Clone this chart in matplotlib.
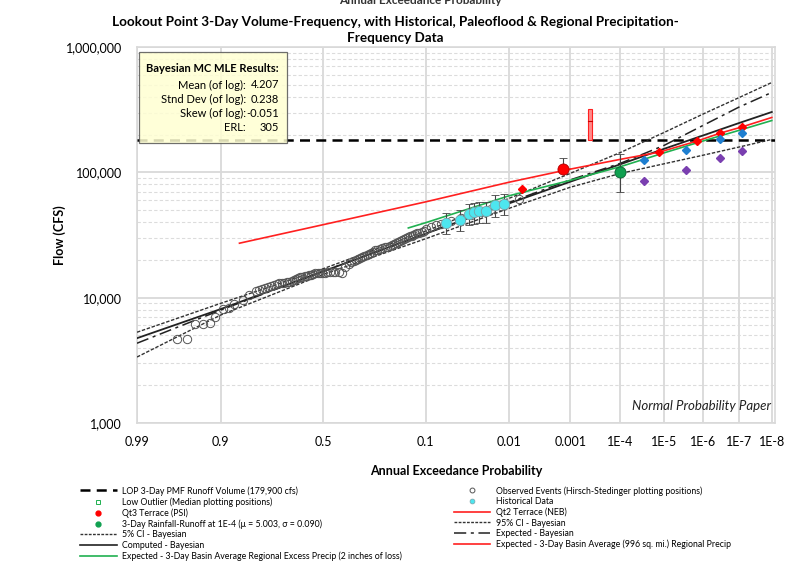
import matplotlib
matplotlib.use("Agg")
import matplotlib.pyplot as plt
from matplotlib.lines import Line2D
from matplotlib.patches import Rectangle
from matplotlib.ticker import LogLocator, NullFormatter
from statistics import NormalDist

plt.rcParams['font.family'] = ['Lato', 'DejaVu Sans']

# probability paper axis
tick_aep = [0.99, 0.9, 0.5, 0.1, 0.01, 0.001, 1e-4, 1e-5, 1e-6, 1e-7, 1e-8]
tick_labels = ["0.99", "0.9", "0.5", "0.1", "0.01", "0.001", "1E-4", "1E-5", "1E-6", "1E-7", "1E-8"]
flow_ticks = [1000, 10000, 100000, 1000000]
flow_labels = ["1,000", "10,000", "100,000", "1,000,000"]

# Bayesian curves (flow in cfs at each AEP)
curve_aep = [0.99, 0.9, 0.5, 0.1, 0.01, 0.001, 1e-4, 1e-5, 1e-6, 1e-7, 1e-8]
computed = [4750, 8100, 16200, 32400, 56500, 84100, 116000, 154000, 197000, 247000, 303000]
expected = [4330, 7950, 16200, 32500, 57500, 87000, 118000, 164000, 237000, 331000, 434000]
ci_95 = [5300, 9000, 17000, 34000, 62000, 98000, 144000, 208000, 292000, 394000, 521000]
ci_05 = [3360, 7260, 15300, 29500, 51600, 76000, 98000, 117000, 137000, 159000, 183000]

pmf_flow = 179900

# Qt2 terrace (NEB) line
qt2_aep = [0.852, 0.5, 0.1, 0.01, 0.001]
qt2_flow = [27200, 38200, 58100, 83400, 106000]

# regional precip curves
precip_aep = [1e-3, 1e-4, 1.3e-5, 1.5e-6, 3.5e-7, 7.8e-8, 1e-8]
precip_flow = [106000, 127000, 145000, 177000, 205000, 231000, 274000]
excess_aep = [0.143, 0.1, 0.01, 0.001, 1e-4, 1e-5, 1e-6, 1e-7, 1e-8]
excess_flow = [36000, 39600, 65000, 86300, 111000, 143000, 178000, 216000, 259000]

# regional precip points
red_pt_aep = [1.3e-5, 1.5e-6, 3.5e-7, 7.8e-8]
red_pt_flow = [145000, 177000, 205000, 231000]
blue_pt_aep = [3.0e-5, 2.9e-6, 3.5e-7, 7.8e-8]
blue_pt_flow = [126000, 152000, 183000, 206000]
purple_pt_flow = [85900, 105000, 129000, 148000]

# observed events (Hirsch-Stedinger plotting positions)
obs_aep = [0.966, 0.955, 0.945, 0.934, 0.922, 0.911, 0.895, 0.881, 0.867, 0.843,
           0.822, 0.800, 0.788, 0.776, 0.765, 0.753, 0.741, 0.729, 0.718, 0.708,
           0.697, 0.686, 0.675, 0.664, 0.652, 0.641, 0.631, 0.622, 0.612, 0.603,
           0.591, 0.579, 0.569, 0.559, 0.548, 0.538, 0.527, 0.515, 0.503, 0.490,
           0.478, 0.465, 0.452, 0.439, 0.423, 0.407, 0.391, 0.375, 0.362, 0.350,
           0.341, 0.332, 0.323, 0.314, 0.303, 0.292, 0.283, 0.275, 0.266, 0.258,
           0.248, 0.239, 0.229, 0.220, 0.211, 0.202, 0.195, 0.189, 0.182, 0.175,
           0.169, 0.163, 0.157, 0.151, 0.145, 0.139, 0.134, 0.129, 0.124, 0.119,
           0.114, 0.109, 0.103, 0.098, 0.0876, 0.0781, 0.0694, 0.0543, 0.0419,
           0.0319, 0.0240, 0.0178, 0.0130, 0.0071]
obs_flow = [4640, 4650, 6110, 6180, 6300, 7030, 8050, 8200, 8880, 9550,
            10470, 11330, 11500, 11700, 11900, 12100, 12400, 12600, 12800, 13000,
            13000, 13100, 13300, 13400, 13600, 13800, 14000, 14300, 14500, 14600,
            14800, 15000, 15100, 15200, 15400, 15600, 15600, 15700, 15700, 15800,
            15900, 16000, 16000, 16100, 16000, 15800, 17500, 18700, 19100, 19500,
            19900, 20300, 20700, 21200, 21500, 21800, 22200, 22600, 23200, 23900,
            24200, 24500, 24800, 25200, 25400, 25700, 26300, 26900, 27300, 27700,
            28200, 28700, 29200, 29800, 30300, 30900, 31300, 31800, 32200, 32700,
            33100, 33600, 34300, 35100, 36500, 37800, 38500, 40700, 43000,
            45400, 48000, 50700, 53600, 61000]

# historical data with uncertainty range
hist_aep = [0.0626, 0.0431, 0.0344, 0.0296, 0.0252, 0.0205, 0.0159, 0.0117]
hist_flow = [39700, 42000, 46900, 48000, 49200, 49200, 54900, 56300]
hist_lo = [32400, 34000, 37800, 38500, 39400, 39400, 44100, 45400]
hist_hi = [47700, 49800, 56300, 57400, 58000, 58000, 65600, 67600]

# paleoflood / rainfall-runoff points
qt3_aep, qt3_flow, qt3_hi = 1.35e-3, 106000, 130000
qt3b_aep, qt3b_flow = 6.4e-3, 73300
rr_aep, rr_flow, rr_lo, rr_hi = 1e-4, 100700, 70000, 140000
paleo_aep, paleo_lo, paleo_mid, paleo_hi = 4.2e-4, 179900, 259000, 322000

stats_names = ["Mean (of log):", "Stnd Dev (of log):", "Skew (of log):", "ERL:"]
stats_vals = ["4.207", "0.238", "-0.051", "305"]

nd = NormalDist()


def zq(p):
    return nd.inv_cdf(1 - p)


def zl(ps):
    return [zq(p) for p in ps]


W, H = 790, 564
fig = plt.figure(figsize=(W / 100, H / 100), dpi=100)
ax = fig.add_axes([137 / W, 141 / H, 638 / W, 376 / H])
ax.set_yscale('log')
ax.set_ylim(1000, 1e6)
ax.set_xlim(zq(0.99), zq(1e-8) + 0.04)
ax.set_axisbelow(True)

ax.set_xticks(zl(tick_aep))
ax.set_xticklabels(tick_labels, fontsize=9)
ax.set_yticks(flow_ticks)
ax.set_yticklabels(flow_labels, fontsize=9)
ax.yaxis.set_minor_locator(LogLocator(subs=range(2, 10)))
ax.yaxis.set_minor_formatter(NullFormatter())
ax.tick_params(which='both', length=0)
ax.tick_params(axis='y', pad=11)
ax.tick_params(axis='x', pad=9)
ax.grid(axis='x', color='#d9d9d9', lw=1.3)
ax.grid(axis='y', which='major', color='#d9d9d9', lw=1.3)
ax.grid(axis='y', which='minor', color='#dcdcdc', lw=0.8, ls=(0, (3, 2)))
for s in ax.spines.values():
    s.set_color('#d9d9d9')
    s.set_linewidth(1.2)

# lines
ax.axhline(pmf_flow, color='black', lw=1.8, ls=(0, (4, 2.5)), zorder=3)
ax.plot(zl(curve_aep), ci_95, color='#333333', lw=1.0, ls=(0, (2.5, 1.2)), zorder=3)
ax.plot(zl(curve_aep), ci_05, color='#333333', lw=1.0, ls=(0, (2.5, 1.2)), zorder=3)
ax.plot(zl(curve_aep), expected, color='#222222', lw=1.1, ls=(0, (8, 3, 2, 3)), zorder=3)
ax.plot(zl(curve_aep), computed, color='#222222', lw=1.3, zorder=3)
ax.plot(zl(qt2_aep), qt2_flow, color='#ff2020', lw=1.2, zorder=3)
ax.plot(zl(precip_aep), precip_flow, color='#ff2020', lw=1.2, zorder=3)
ax.plot(zl(excess_aep), excess_flow, color='#20b050', lw=1.2, zorder=3)

# points
ax.plot(zl(obs_aep), obs_flow, ls='none', marker='o', ms=6, mfc='none',
        mec='#555555', mew=0.7, zorder=4)
hz = zl(hist_aep)
ax.errorbar(hz, hist_flow,
            yerr=[[f - l for f, l in zip(hist_flow, hist_lo)],
                  [h - f for f, h in zip(hist_flow, hist_hi)]],
            fmt='o', ms=7.5, mfc='#4de6ef', mec='#7aa0a8', mew=0.6,
            ecolor='#444444', elinewidth=0.8, capsize=3, zorder=5)
ax.errorbar([zq(qt3_aep)], [qt3_flow], yerr=[[0], [qt3_hi - qt3_flow]],
            fmt='o', ms=8, mfc='#ff0000', mec='#b00000', mew=0.6,
            ecolor='#444444', elinewidth=0.8, capsize=3, zorder=5)
ax.plot([zq(qt3b_aep)], [qt3b_flow], marker='D', ms=4, color='#ff0000', ls='none', zorder=5)
ax.errorbar([zq(rr_aep)], [rr_flow], yerr=[[rr_flow - rr_lo], [rr_hi - rr_flow]],
            fmt='o', ms=8, mfc='#10a050', mec='#0a6030', mew=0.6,
            ecolor='#444444', elinewidth=0.8, capsize=3, zorder=5)
ax.plot(zl(red_pt_aep), red_pt_flow, ls='none', marker='D', ms=4.5, color='#ff0000', zorder=5)
ax.plot(zl(blue_pt_aep), blue_pt_flow, ls='none', marker='D', ms=4.5, color='#1f7fd0', zorder=5)
ax.plot(zl(blue_pt_aep), purple_pt_flow, ls='none', marker='D', ms=4.5, color='#7a3fb0', zorder=5)

# paleoflood range bar
pz = zq(paleo_aep)
ax.add_patch(Rectangle((pz - 0.02, paleo_lo), 0.04, paleo_hi - paleo_lo,
                       facecolor='#ff8a8a', edgecolor='#ff2020', lw=0.8, zorder=4))
ax.plot([pz - 0.02, pz + 0.02], [paleo_mid, paleo_mid], color='#cc0000', lw=0.8, zorder=5)

# stats box
ax.add_patch(Rectangle((1.5 / 638, 1 - 95.7 / 376), 148.4 / 638, 90.4 / 376,
                       transform=ax.transAxes, facecolor='#ffffd2', alpha=0.85,
                       edgecolor='#555555', lw=0.9, zorder=6))
ax.text(142 / 638, 1 - 22 / 376, "Bayesian MC MLE Results:", transform=ax.transAxes,
        ha='right', va='center', fontsize=8.0, fontweight='bold', zorder=7)
for i, (n, v) in enumerate(zip(stats_names, stats_vals)):
    yy = 1 - (38 + 14.3 * i) / 376
    ax.text(109 / 638, yy, n, transform=ax.transAxes, ha='right', va='center',
            fontsize=8.0, zorder=7)
    ax.text(142 / 638, yy, v, transform=ax.transAxes, ha='right', va='center',
            fontsize=8.0, zorder=7)

ax.text(0.993, 0.045, "Normal Probability Paper", transform=ax.transAxes,
        ha='right', va='center', fontsize=9.5, style='italic', color='#222222')

# titles and labels
fig.text(0.5, 1 - 22 / H, "Lookout Point 3-Day Volume-Frequency, with Historical, Paleoflood & Regional Precipitation-",
         ha='center', va='center', fontsize=9.7, fontweight='bold')
fig.text(0.5, 1 - 38 / H, "Frequency Data", ha='center', va='center', fontsize=9.7, fontweight='bold')
fig.text(420 / W, 1 - 1 / H, "Annual Exceedance Probability", ha='center', va='center',
         fontsize=8.5, fontweight='bold', color='#333333')
fig.text(456 / W, 1 - 471 / H, "Annual Exceedance Probability", ha='center', va='center',
         fontsize=9, fontweight='bold')
fig.text(60 / W, 1 - 235 / H, "Flow (CFS)", rotation=90, ha='center', va='center',
         fontsize=9, fontweight='bold')

# legend
dots = (0, (2, 1))
handles = [
    Line2D([], [], color='black', lw=1.8, ls=(0, (4, 2.5))),
    Line2D([], [], ls='none', marker='s', ms=3.5, mfc='none', mec='#20b050', mew=0.7),
    Line2D([], [], ls='none', marker='o', ms=3.5, color='#ff0000'),
    Line2D([], [], ls='none', marker='o', ms=3.5, color='#10a050'),
    Line2D([], [], color='#333333', lw=1.0, ls=dots),
    Line2D([], [], color='#222222', lw=1.2),
    Line2D([], [], color='#20b050', lw=1.2),
    Line2D([], [], ls='none', marker='o', ms=3.5, mfc='none', mec='#555555', mew=0.7),
    Line2D([], [], ls='none', marker='o', ms=3.5, mfc='#4de6ef', mec='#7aa0a8', mew=0.5),
    Line2D([], [], color='#ff2020', lw=1.2),
    Line2D([], [], color='#333333', lw=1.0, ls=dots),
    Line2D([], [], color='#222222', lw=1.1, ls=(0, (8, 3, 2, 3))),
    Line2D([], [], color='#ff2020', lw=1.2),
]
labels = [
    "LOP 3-Day PMF Runoff Volume (179,900 cfs)",
    "Low Outlier (Median plotting positions)",
    "Qt3 Terrace (PSI)",
    "3-Day Rainfall-Runoff at 1E-4 (\u03bc = 5.003, \u03c3 = 0.090)",
    "5% CI - Bayesian",
    "Computed - Bayesian",
    "Expected - 3-Day Basin Average Regional Excess Precip (2 inches of loss)",
    "Observed Events (Hirsch-Stedinger plotting positions)",
    "Historical Data",
    "Qt2 Terrace (NEB)",
    "95% CI - Bayesian",
    "Expected - Bayesian",
    "Expected - 3-Day Basin Average (996 sq. mi.) Regional Precip",
]
fig.legend(handles, labels, ncol=2, loc='upper left', bbox_to_anchor=(80 / W, 1 - 486 / H),
           fontsize=6.3, frameon=False, handlelength=4.2, handletextpad=0.6,
           labelspacing=0.17, columnspacing=5.9, borderaxespad=0, borderpad=0)

fig.savefig("out.png", dpi=100)
